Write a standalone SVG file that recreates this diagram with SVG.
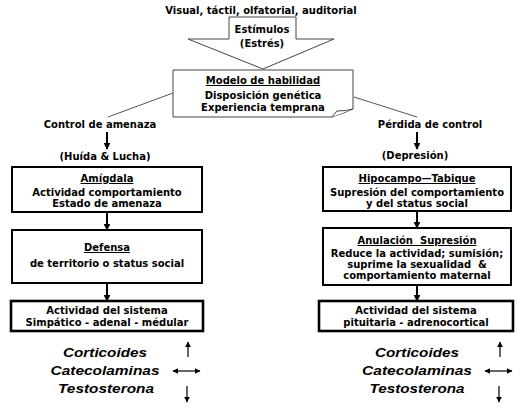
<svg xmlns="http://www.w3.org/2000/svg" width="520" height="411" viewBox="0 0 520 411">
<style>
.t{font-family:"DejaVu Sans","Verdana",sans-serif;font-weight:bold;font-size:10px;fill:#000;text-anchor:middle}
.u{text-decoration:underline}
.h{font-family:"Liberation Sans",Arial,sans-serif;font-weight:bold;font-style:italic;font-size:13px;fill:#000;text-anchor:middle}
.box{fill:#fff;stroke:#000;stroke-width:2}
.box2{fill:#fff;stroke:#000;stroke-width:2.6}
.thin{fill:#fff;stroke:#444;stroke-width:1}
.ln{stroke:#555;stroke-width:1;fill:none}
.ar{stroke:#000;stroke-width:2;fill:none}
.ar1{stroke:#000;stroke-width:1.2;fill:none}
</style>
<defs>
<marker id="hd" viewBox="0 0 10 10" refX="9" refY="5" markerWidth="3.4" markerHeight="3.4" orient="auto"><path d="M0,0 L10,5 L0,10 Z" fill="#000"/></marker>
<marker id="hs" viewBox="0 0 10 10" refX="9" refY="5" markerWidth="5" markerHeight="5" orient="auto-start-reverse"><path d="M0,0 L10,5 L0,10 Z" fill="#000"/></marker>
</defs>
<rect width="520" height="411" fill="#fff"/>

<g id="title"><text class="t" x="261" y="14">Visual, táctil, olfatorial, auditorial</text></g>

<g id="estimulos">
<path class="thin" d="M229,17 H296 V39 H334 L263,69 L188,39 H229 Z"/>
<text class="t" x="262" y="33">Estímulos</text>
<text class="t" x="262" y="47">(Estrés)</text>
</g>

<g id="modelo">
<path class="thin" d="M173,70 H353 V109 Q344,113 332,117 H173 Z"/>
<path class="thin" d="M332,117 L337,111 Q346,111 353,109"/>
<text class="t u" x="263" y="84">Modelo de habilidad</text>
<text class="t" x="263" y="99">Disposición genética</text>
<text class="t" x="263" y="111">Experiencia temprana</text>
</g>

<g id="connectors">
<line class="ln" x1="173" y1="93" x2="108" y2="117"/>
<line class="ln" x1="354" y1="97" x2="417" y2="117"/>
<line class="ar" x1="107" y1="132" x2="107" y2="149" marker-end="url(#hd)"/>
<line class="ar" x1="417" y1="132" x2="417" y2="149" marker-end="url(#hd)"/>
<line class="ar" x1="107" y1="213" x2="107" y2="230" marker-end="url(#hd)"/>
<line class="ar" x1="417" y1="212" x2="417" y2="228" marker-end="url(#hd)"/>
<line class="ar" x1="107" y1="284" x2="107" y2="301" marker-end="url(#hd)"/>
<line class="ar" x1="417" y1="286" x2="417" y2="301" marker-end="url(#hd)"/>
<line class="ar1" x1="188" y1="357" x2="188" y2="342" marker-end="url(#hs)"/>
<line class="ar1" x1="173" y1="371" x2="200" y2="371" marker-start="url(#hs)" marker-end="url(#hs)"/>
<line class="ar1" x1="187" y1="386" x2="187" y2="402" marker-end="url(#hs)"/>
<line class="ar1" x1="500" y1="357" x2="500" y2="342" marker-end="url(#hs)"/>
<line class="ar1" x1="485" y1="371" x2="512" y2="371" marker-start="url(#hs)" marker-end="url(#hs)"/>
<line class="ar1" x1="499" y1="386" x2="499" y2="402" marker-end="url(#hs)"/>
</g>

<g id="control"><text class="t" x="100" y="128">Control de amenaza</text></g>
<g id="huida"><text class="t" x="105" y="160">(Huída &amp; Lucha)</text></g>

<g id="amigdala">
<rect class="box" x="12" y="167" width="190" height="45"/>
<text class="t u" x="107" y="182">Amígdala</text>
<text class="t" x="107" y="196">Actividad comportamiento</text>
<text class="t" x="107" y="207">Estado de amenaza</text>
</g>

<g id="defensa">
<rect class="box" x="12" y="230" width="190" height="53"/>
<text class="t u" x="107" y="251">Defensa</text>
<text class="t" x="107" y="267">de territorio o status social</text>
</g>

<g id="simpatico">
<rect class="box2" x="11" y="301" width="192" height="30"/>
<text class="t" x="107" y="314">Actividad del sistema</text>
<text class="t" x="107" y="326">Simpático - adenal - médular</text>
</g>

<g id="hormonas-izq">
<text class="h" x="105" y="357" textLength="84" lengthAdjust="spacingAndGlyphs">Corticoides</text>
<text class="h" x="105" y="375" textLength="109" lengthAdjust="spacingAndGlyphs">Catecolaminas</text>
<text class="h" x="106" y="393" textLength="96" lengthAdjust="spacingAndGlyphs">Testosterona</text>
</g>

<g id="perdida"><text class="t" x="430" y="128">Pérdida de control</text></g>
<g id="depresion"><text class="t" x="415" y="159">(Depresión)</text></g>

<g id="hipocampo">
<rect class="box" x="323" y="167" width="188" height="44"/>
<text class="t u" x="417" y="182">Hipocampo—Tabique</text>
<text class="t" x="417" y="196">Supresión del comportamiento</text>
<text class="t" x="417" y="207">y del status social</text>
</g>

<g id="anulacion">
<rect class="box" x="323" y="228" width="188" height="57"/>
<text class="t u" x="417" y="244">Anulación&#160; Supresión</text>
<text class="t" x="417" y="257">Reduce la actividad; sumisión;</text>
<text class="t" x="417" y="268">suprime la sexualidad&#160; &amp;</text>
<text class="t" x="417" y="279">comportamiento maternal</text>
</g>

<g id="pituitaria">
<rect class="box2" x="319" y="301" width="194" height="30"/>
<text class="t" x="416" y="314">Actividad del sistema</text>
<text class="t" x="416" y="326">pituitaria - adrenocortical</text>
</g>

<g id="hormonas-der">
<text class="h" x="417" y="357" textLength="84" lengthAdjust="spacingAndGlyphs">Corticoides</text>
<text class="h" x="417" y="375" textLength="110" lengthAdjust="spacingAndGlyphs">Catecolaminas</text>
<text class="h" x="417" y="393" textLength="95" lengthAdjust="spacingAndGlyphs">Testosterona</text>
</g>
</svg>
